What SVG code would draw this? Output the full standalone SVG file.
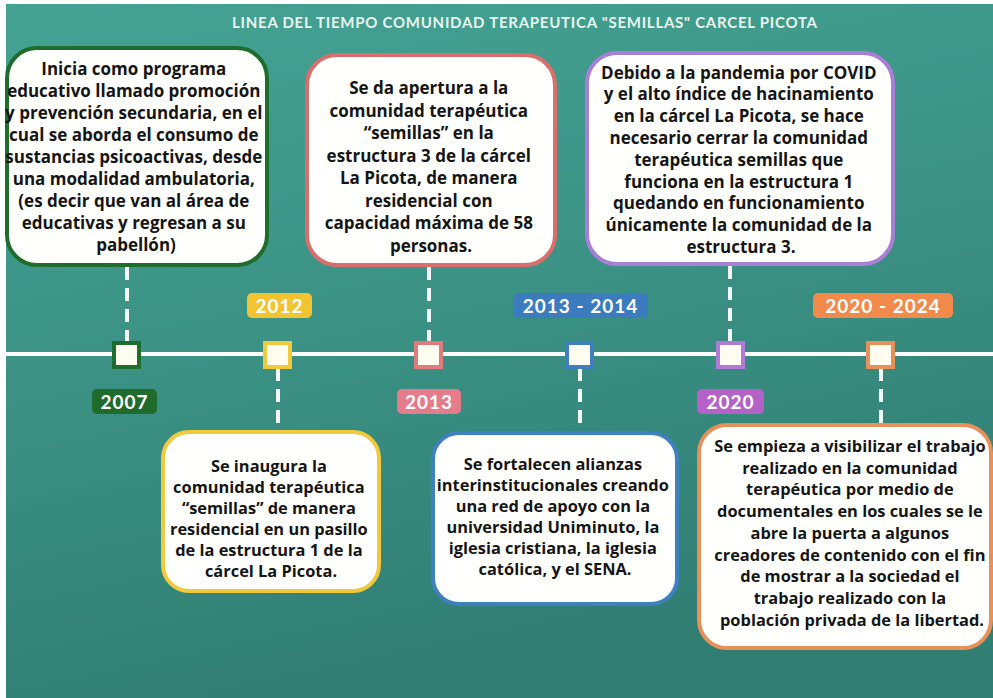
<svg xmlns="http://www.w3.org/2000/svg" width="993" height="698" viewBox="0 0 993 698">
<defs>
<linearGradient id="bg" x1="0" y1="0" x2="0.3" y2="1">
<stop offset="0" stop-color="#45a394"/>
<stop offset="0.5" stop-color="#3b9285"/>
<stop offset="1" stop-color="#317e73"/>
</linearGradient>
<style>
.box{fill:#fffffd;stroke-width:4}
.t{font-family:"Open Sans","Noto Sans","Liberation Sans",sans-serif;font-weight:700;fill:#151515;text-anchor:middle}
.big{font-size:17px}
.sm{font-size:16.4px}
.yr{font-family:Lato,"Noto Sans",sans-serif;font-weight:700;font-size:19px;fill:#ffffff;text-anchor:middle;letter-spacing:1px}
.title{font-family:Lato,"Noto Sans",sans-serif;font-weight:700;font-size:15px;fill:#e8f6ef;letter-spacing:1px}
.dash{stroke:#f4f8f6;stroke-width:4;stroke-dasharray:13 8;fill:none}
.mk{fill:#fffdf0;stroke-width:4}
</style>
</defs>
<rect x="0" y="0" width="993" height="698" fill="#ffffff"/>
<rect x="6" y="4" width="987" height="694" fill="url(#bg)"/>
<text class="title" x="232" y="28" textLength="586" lengthAdjust="spacing">LINEA DEL TIEMPO COMUNIDAD TERAPEUTICA "SEMILLAS" CARCEL PICOTA</text>

<g id="connectors">
<line x1="6" y1="354" x2="993" y2="354" stroke="#ffffff" stroke-width="4"/>
<line class="dash" x1="127" y1="267" x2="127" y2="343"/>
<line class="dash" x1="429" y1="267" x2="429" y2="343"/>
<line class="dash" x1="730" y1="266" x2="730" y2="343"/>
<line class="dash" x1="278" y1="368" x2="278" y2="431"/>
<line class="dash" x1="580" y1="368" x2="580" y2="432"/>
<line class="dash" x1="881" y1="368" x2="881" y2="424"/>
</g>

<g id="node-2007">
<rect class="box" x="7" y="48" width="260" height="217" rx="30" stroke="#1f6d2d"/>
<text class="t big">
<tspan x="136" y="74.5">Inicia como programa</tspan>
<tspan x="136" y="96.5">educativo llamado promoción</tspan>
<tspan x="136" y="118.5">y prevención secundaria, en el</tspan>
<tspan x="136" y="140.5">cual se aborda el consumo de</tspan>
<tspan x="136" y="162.5">sustancias psicoactivas, desde</tspan>
<tspan x="136" y="184.5">una modalidad ambulatoria,</tspan>
<tspan x="136" y="206.5">(es decir que van al área de</tspan>
<tspan x="136" y="228.5">educativas y regresan a su</tspan>
<tspan x="136" y="250.5">pabellón)</tspan>
</text>
<rect class="mk" x="114" y="343" width="25" height="24" stroke="#1f6d2d"/>
<rect x="92" y="389" width="65" height="25" rx="5" fill="#1e6b2b"/>
<text class="yr" x="124.5" y="409">2007</text>
</g>

<g id="node-2012">
<rect class="box" x="163" y="432" width="216" height="159" rx="26" stroke="#f0c93c"/>
<text class="t sm">
<tspan x="271" y="472">Se inaugura la</tspan>
<tspan x="271" y="493">comunidad terapéutica</tspan>
<tspan x="271" y="514">“semillas” de manera</tspan>
<tspan x="271" y="535">residencial en un pasillo</tspan>
<tspan x="271" y="556">de la estructura 1 de la</tspan>
<tspan x="271" y="577">cárcel La Picota.</tspan>
</text>
<rect class="mk" x="265" y="343" width="25" height="24" stroke="#f0c93c"/>
<rect x="247" y="293" width="65" height="25" rx="5" fill="#f2c431"/>
<text class="yr" x="279.5" y="313">2012</text>
</g>

<g id="node-2013">
<rect class="box" x="307" y="55" width="248" height="210" rx="30" stroke="#d96f6c"/>
<text class="t big">
<tspan x="431" y="94">Se da apertura a la</tspan>
<tspan x="431" y="116.5">comunidad terapéutica</tspan>
<tspan x="431" y="139">“semillas” en la</tspan>
<tspan x="431" y="161.5">estructura 3 de la cárcel</tspan>
<tspan x="431" y="184">La Picota, de manera</tspan>
<tspan x="431" y="206.5">residencial con</tspan>
<tspan x="431" y="229">capacidad máxima de 58</tspan>
<tspan x="431" y="251.5">personas.</tspan>
</text>
<rect class="mk" x="416" y="343" width="25" height="24" stroke="#e07a7c"/>
<rect x="397" y="389" width="64" height="25" rx="5" fill="#e47c8b"/>
<text class="yr" x="429" y="409">2013</text>
</g>

<g id="node-2013-2014">
<rect class="box" x="433" y="433" width="244" height="171" rx="26" stroke="#3f80bf"/>
<text class="t sm">
<tspan x="555" y="470">Se fortalecen alianzas</tspan>
<tspan x="555" y="491">interinstitucionales creando</tspan>
<tspan x="555" y="512">una red de apoyo con la</tspan>
<tspan x="555" y="533">universidad Uniminuto, la</tspan>
<tspan x="555" y="554">iglesia cristiana, la iglesia</tspan>
<tspan x="555" y="575">católica, y el SENA.</tspan>
</text>
<rect class="mk" x="567" y="343" width="25" height="24" stroke="#3f7fbf"/>
<rect x="513" y="293" width="135" height="25" rx="5" fill="#3b7bbe"/>
<text class="yr" x="580.5" y="313">2013 - 2014</text>
</g>

<g id="node-2020">
<rect class="box" x="587" y="53" width="306" height="211" rx="30" stroke="#a97fd6"/>
<text class="t big">
<tspan x="741" y="78.5">Debido a la pandemia por COVID</tspan>
<tspan x="741" y="100.3">y el alto índice de hacinamiento</tspan>
<tspan x="741" y="122.1">en la cárcel La Picota, se hace</tspan>
<tspan x="741" y="143.9">necesario cerrar la comunidad</tspan>
<tspan x="741" y="165.7">terapéutica semillas que</tspan>
<tspan x="741" y="187.5">funciona en la estructura 1</tspan>
<tspan x="741" y="209.3">quedando en funcionamiento</tspan>
<tspan x="741" y="231.1">únicamente la comunidad de la</tspan>
<tspan x="741" y="252.9">estructura 3.</tspan>
</text>
<rect class="mk" x="718" y="343" width="25" height="24" stroke="#b07ad6"/>
<rect x="697" y="389" width="67" height="25" rx="5" fill="#b462c8"/>
<text class="yr" x="730.5" y="409">2020</text>
</g>

<g id="node-2020-2024">
<rect class="box" x="699" y="425" width="292" height="223" rx="28" stroke="#e8905a"/>
<text class="t sm">
<tspan x="852" y="452">Se empieza a visibilizar el trabajo</tspan>
<tspan x="852" y="473.7">realizado en la comunidad</tspan>
<tspan x="852" y="495.4">terapéutica por medio de</tspan>
<tspan x="852" y="517.1">documentales en los cuales se le</tspan>
<tspan x="852" y="538.8">abre la puerta a algunos</tspan>
<tspan x="852" y="560.5">creadores de contenido con el fin</tspan>
<tspan x="852" y="582.2">de mostrar a la sociedad el</tspan>
<tspan x="852" y="603.9">trabajo realizado con la</tspan>
<tspan x="852" y="625.6">población privada de la libertad.</tspan>
</text>
<rect class="mk" x="868" y="343" width="25" height="24" stroke="#e8905a"/>
<rect x="813" y="293" width="140" height="25" rx="5" fill="#f28a4c"/>
<text class="yr" x="883" y="313">2020 - 2024</text>
</g>
</svg>
